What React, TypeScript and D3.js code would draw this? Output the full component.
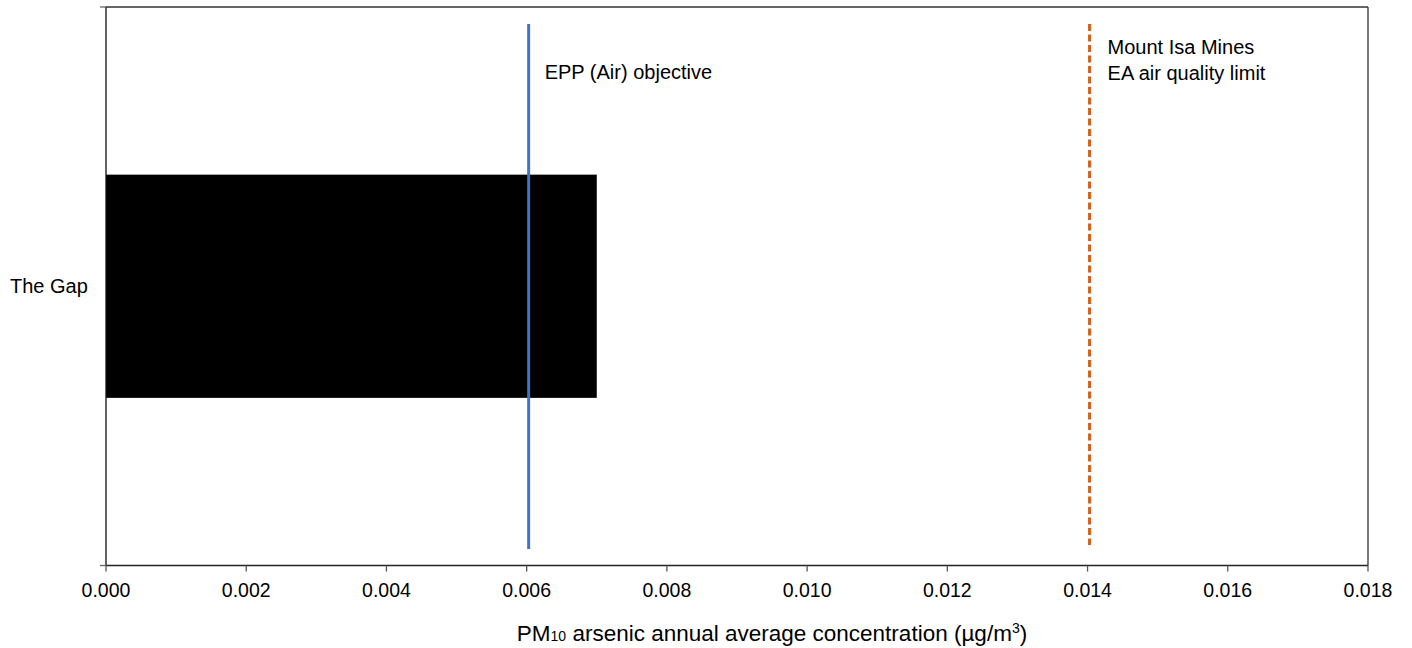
import React from "react";
import * as d3 from "d3";

const categories = ["The Gap"];
const values = [0.007];
const xTicks = [0, 0.002, 0.004, 0.006, 0.008, 0.01, 0.012, 0.014, 0.016, 0.018];
const refLines = [
  { value: 0.006, label: ["EPP (Air) objective"], color: "#4472C4", dash: "", y2: 549, labelY: 79, dx: 18 },
  { value: 0.014, label: ["Mount Isa Mines", "EA air quality limit"], color: "#D2611C", dash: "7,3.5", y2: 545, labelY: 54, dx: 20 },
];

export default function App() {
  const W = 1412, H = 648;
  const left = 106, right = 1368, top = 7, bottom = 565.5;
  const x = d3.scaleLinear().domain([0, 0.018]).range([left, right]);
  const y = d3.scaleBand().domain(categories).range([top, bottom]).paddingInner(0).paddingOuter(0.751);
  const font = "'Liberation Sans', Arial, sans-serif";
  return (
    <svg width={W} height={H} style={{ position: "absolute", left: 0, top: 0 }} fontFamily={font}>
      <rect x={0} y={0} width={W} height={H} fill="#fff" />
      {categories.map((c, i) => (
        <rect key={c} x={x(0)} y={y(c)!} width={x(values[i]) - x(0)} height={y.bandwidth()} fill="#000" />
      ))}
      <line x1={left} x2={right} y1={top} y2={top} stroke="#333" strokeWidth={1.3} />
      <line x1={right} x2={right} y1={top} y2={bottom} stroke="#333" strokeWidth={1.3} />
      <line x1={left} x2={left} y1={top} y2={bottom} stroke="#111" strokeWidth={1.3} />
      <line x1={100} x2={left} y1={top} y2={top} stroke="#666" strokeWidth={1.3} />
      <line x1={100} x2={left} y1={bottom} y2={bottom} stroke="#666" strokeWidth={1.3} />
      <line x1={left} x2={right} y1={bottom} y2={bottom} stroke="#222" strokeWidth={1.5} />
      {xTicks.map((t) => (
        <g key={t}>
          <line x1={x(t)} x2={x(t)} y1={bottom} y2={bottom + 6} stroke="#555" strokeWidth={1.3} />
          <text x={x(t)} y={597} textAnchor="middle" fontSize={19.5} fill="#000">{t.toFixed(3)}</text>
        </g>
      ))}
      {categories.map((c) => (
        <text key={c} x={10} y={y(c)! + y.bandwidth() / 2 + 7} fontSize={20} fill="#000">{c}</text>
      ))}
      {refLines.map((r) => (
        <g key={r.value}>
          <line x1={x(r.value) + 2} x2={x(r.value) + 2} y1={24} y2={r.y2} stroke={r.color} strokeWidth={3} strokeDasharray={r.dash} />
          {r.label.map((l, k) => (
            <text key={k} x={x(r.value) + r.dx} y={r.labelY + k * 26} fontSize={20} fill="#000">{l}</text>
          ))}
        </g>
      ))}
      <text x={772} y={641} textAnchor="middle" fontSize={22.5} fill="#000">
        PM<tspan fontSize={14}>10</tspan> arsenic annual average concentration (µg/m<tspan fontSize={14} dy={-8}>3</tspan><tspan dy={8}>)</tspan>
      </text>
    </svg>
  );
}
